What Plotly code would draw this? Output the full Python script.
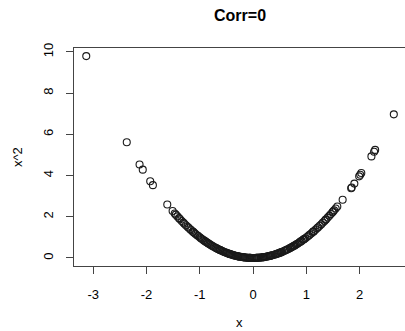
import plotly.graph_objects as go

# x values of the sample (left tail, dense centre, right tail)
x_vals = [
    -3.13, -2.37, -2.13, -2.07, -1.93, -1.88, -1.61, -1.51, -1.47, -1.45,
    -1.42, -1.39, -1.37, -1.34, -1.31, -1.29, -1.26, -1.23, -1.21, -1.18,
    -1.16, -1.13, -1.12, -1.10, -1.08, -1.05, -1.03, -1.00, -0.98, -0.96,
    -0.93, -0.91, -0.89, -0.87, -0.85, -0.84, -0.82, -0.80, -0.78, -0.76,
    -0.74, -0.71, -0.69, -0.67, -0.65, -0.63, -0.62, -0.61, -0.59, -0.57,
    -0.55, -0.53, -0.51, -0.49, -0.47, -0.45, -0.44, -0.43, -0.41, -0.39,
    -0.37, -0.35, -0.33, -0.31, -0.29, -0.28, -0.27, -0.25, -0.23, -0.21,
    -0.19, -0.18, -0.17, -0.15, -0.13, -0.11, -0.09, -0.07, -0.06, -0.05,
    -0.03, -0.01, 0.02, 0.04, 0.06, 0.07, 0.08, 0.10, 0.12, 0.14,
    0.16, 0.18, 0.19, 0.20, 0.22, 0.24, 0.26, 0.28, 0.30, 0.32,
    0.33, 0.34, 0.36, 0.38, 0.41, 0.43, 0.45, 0.47, 0.49, 0.51,
    0.52, 0.53, 0.55, 0.58, 0.60, 0.62, 0.64, 0.66, 0.69, 0.71,
    0.73, 0.75, 0.77, 0.78, 0.80, 0.82, 0.84, 0.87, 0.89, 0.91,
    0.94, 0.95, 0.96, 0.98, 1.01, 1.04, 1.06, 1.09, 1.12, 1.13,
    1.14, 1.17, 1.20, 1.22, 1.25, 1.28, 1.31, 1.34, 1.36, 1.37,
    1.40, 1.43, 1.46, 1.49, 1.50, 1.52, 1.55, 1.58, 1.68, 1.84,
    1.85, 1.90, 1.99, 2.01, 2.03, 2.22, 2.27, 2.29, 2.64,
]
# the vertical axis shows the square of each x
y_vals = [v ** 2 for v in x_vals]

x_ticks = [-3, -2, -1, 0, 1, 2]
y_ticks = [0, 2, 4, 6, 8, 10]

FONT = "Liberation Sans, Arial, sans-serif"

fig = go.Figure(
    go.Scatter(
        x=x_vals,
        y=y_vals,
        mode="markers",
        marker=dict(symbol="circle-open", size=7, color="#1a1a1a",
                    line=dict(width=1.1, color="#1a1a1a")),
        hoverinfo="x+y",
    )
)

fig.update_layout(
    width=405,
    height=331,
    margin=dict(l=74, r=0, t=48, b=65),
    paper_bgcolor="white",
    plot_bgcolor="white",
    showlegend=False,
    font=dict(family=FONT, size=13, color="black"),
    annotations=[
        dict(text="<b>Corr=0</b>", x=0.5, y=1.147, xref="paper", yref="paper",
             xanchor="center", yanchor="middle", showarrow=False,
             font=dict(family=FONT, size=16, color="black")),
        dict(text="x", x=0.5, y=-0.258, xref="paper", yref="paper",
             xanchor="center", yanchor="middle", showarrow=False,
             font=dict(family=FONT, size=13, color="black")),
        dict(text="x^2", x=-0.172, y=0.5, xref="paper", yref="paper",
             xanchor="center", yanchor="middle", showarrow=False, textangle=-90,
             font=dict(family=FONT, size=13, color="black")),
    ],
)

fig.update_xaxes(
    range=[-3.36, 2.85],
    tickvals=x_ticks,
    ticktext=[str(t) for t in x_ticks],
    ticks="outside",
    ticklen=7,
    tickwidth=1,
    tickcolor="#444444",
    showline=True,
    linecolor="#444444",
    linewidth=1,
    mirror=True,
    showgrid=False,
    zeroline=False,
    ticklabelstandoff=9,
)
fig.update_yaxes(
    range=[-0.39, 10.19],
    tickvals=y_ticks,
    ticktext=[str(t) for t in y_ticks],
    tickangle=-90,
    ticks="outside",
    ticklen=7,
    tickwidth=1,
    tickcolor="#444444",
    showline=True,
    linecolor="#444444",
    linewidth=1,
    mirror=False,
    showgrid=False,
    zeroline=False,
    ticklabelstandoff=8,
)

fig.write_html("out.html")
